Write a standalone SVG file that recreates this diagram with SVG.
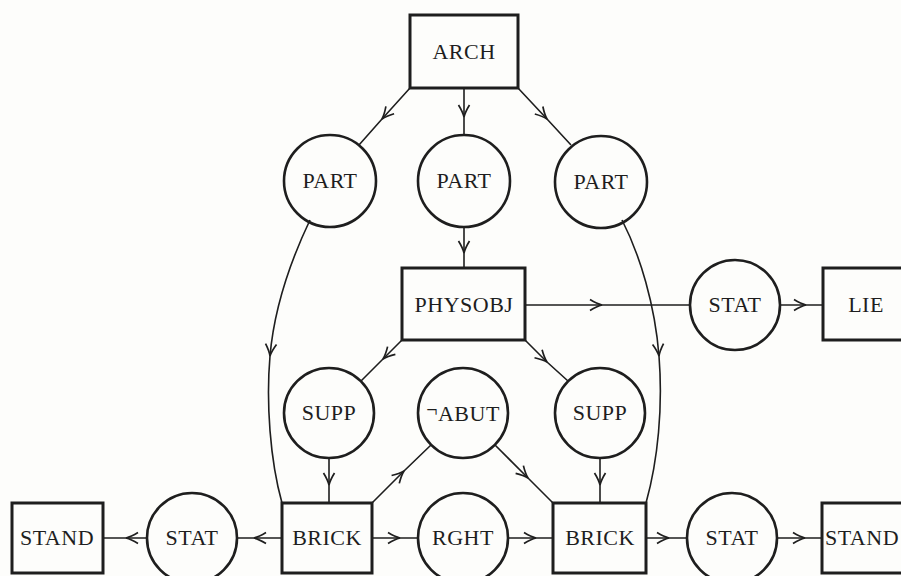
<svg xmlns="http://www.w3.org/2000/svg" width="901" height="576" viewBox="0 0 901 576">
<defs>
<marker id="arr" markerUnits="userSpaceOnUse" markerWidth="16" markerHeight="14" viewBox="-13 -7 16 14" refX="0" refY="0" orient="auto" overflow="visible">
<path d="M-12,-5.5 Q-5,-1.2 0,0 Q-5,1.2 -12,5.5" fill="none" stroke="#1e1e1e" stroke-width="1.7"/>
</marker>
<style>
.box{fill:none;stroke:#1e1e1e;stroke-width:3}
.circ{fill:none;stroke:#1e1e1e;stroke-width:2.6}
.lbl{font-family:"Liberation Serif","Times New Roman",serif;font-size:22px;fill:#1e1e1e;text-anchor:middle;letter-spacing:0.5px}
.edge{fill:none;stroke:#1e1e1e;stroke-width:1.6;marker-mid:url(#arr)}
</style>
</defs>
<rect x="0" y="0" width="901" height="576" fill="#fdfdfb"/>
<g id="connectors">
<path class="edge" d="M410,88 L382,119 L359,145"/>
<path class="edge" d="M464,88 L464,117 L464,135"/>
<path class="edge" d="M518,88 L547,119 L571,145"/>
<path class="edge" d="M464,227 L464,253 L464,268"/>
<path class="edge" d="M525,305 L602,305 L690,305"/>
<path class="edge" d="M780,305 L806,305 L823,305"/>
<path class="edge" d="M402,340 L383,359 L361,381"/>
<path class="edge" d="M525,340 L547,362 L568,381"/>
<path class="edge" d="M310,220 C290,262 274,310 270,356 C266,402 270,460 282,503"/>
<path class="edge" d="M622,220 C640,255 655,305 659,356 C663,407 658,460 646,503"/>
<path class="edge" d="M329,458 L329,485 L329,503"/>
<path class="edge" d="M600,458 L600,485 L600,503"/>
<path class="edge" d="M372,503 L404,471 L431,445"/>
<path class="edge" d="M495,445 L528,478 L553,503"/>
<path class="edge" d="M372,538 L400,538 L418,538"/>
<path class="edge" d="M508,538 L536,538 L553,538"/>
<path class="edge" d="M646,538 L669,538 L687,538"/>
<path class="edge" d="M777,538 L805,538 L822,538"/>
<path class="edge" d="M282,538 L254,538 L237,538"/>
<path class="edge" d="M147,538 L126,538 L103,538"/>
</g>
<g id="arch"><rect class="box" x="410" y="15" width="108" height="73"/><text class="lbl" x="464" y="59">ARCH</text></g>
<g id="part1"><circle class="circ" cx="330" cy="181" r="46"/><text class="lbl" x="330" y="188">PART</text></g>
<g id="part2"><circle class="circ" cx="464" cy="181" r="46"/><text class="lbl" x="464" y="188">PART</text></g>
<g id="part3"><circle class="circ" cx="601" cy="182" r="46"/><text class="lbl" x="601" y="189">PART</text></g>
<g id="physobj"><rect class="box" x="402" y="268" width="123" height="72"/><text class="lbl" x="464" y="312">PHYSOBJ</text></g>
<g id="stat-lie"><circle class="circ" cx="735" cy="305" r="45"/><text class="lbl" x="735" y="312">STAT</text></g>
<g id="lie"><rect class="box" x="823" y="268" width="86" height="72"/><text class="lbl" x="866" y="312">LIE</text></g>
<g id="supp1"><circle class="circ" cx="329" cy="413" r="45"/><text class="lbl" x="329" y="420">SUPP</text></g>
<g id="notabut"><circle class="circ" cx="463" cy="413" r="45"/><text class="lbl" x="463" y="421"><tspan font-size="20" dy="-4">¬</tspan><tspan dy="4">ABUT</tspan></text></g>
<g id="supp2"><circle class="circ" cx="600" cy="413" r="45"/><text class="lbl" x="600" y="420">SUPP</text></g>
<g id="stand1"><rect class="box" x="12" y="503" width="91" height="70"/><text class="lbl" x="57" y="545">STAND</text></g>
<g id="stat1"><circle class="circ" cx="192" cy="538" r="45"/><text class="lbl" x="192" y="545">STAT</text></g>
<g id="brick1"><rect class="box" x="282" y="503" width="90" height="70"/><text class="lbl" x="327" y="545">BRICK</text></g>
<g id="rght"><circle class="circ" cx="463" cy="538" r="45"/><text class="lbl" x="463" y="545">RGHT</text></g>
<g id="brick2"><rect class="box" x="553" y="503" width="93" height="70"/><text class="lbl" x="600" y="545">BRICK</text></g>
<g id="stat2"><circle class="circ" cx="732" cy="538" r="45"/><text class="lbl" x="732" y="545">STAT</text></g>
<g id="stand2"><rect class="box" x="822" y="503" width="90" height="70"/><text class="lbl" x="862" y="545">STAND</text></g>
</svg>
